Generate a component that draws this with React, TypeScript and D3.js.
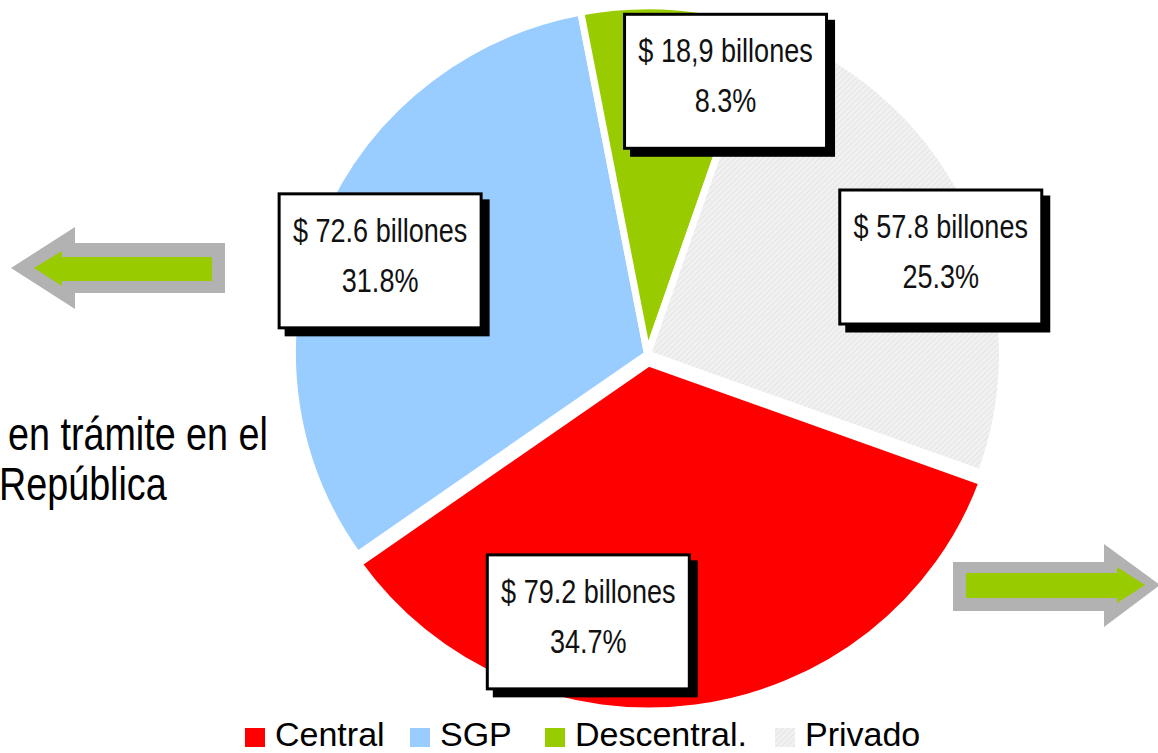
import * as d3 from 'd3';

// Datos del gráfico
const categories = ['Central', 'SGP', 'Descentral.', 'Privado'];
const values = [79.2, 72.6, 18.9, 57.8];
const amountLabels = ['$ 79.2 billones', '$ 72.6 billones', '$ 18,9 billones', '$ 57.8 billones'];
const percentLabels = ['34.7%', '31.8%', '8.3%', '25.3%'];
const colors = ['#ff0000', '#99ccff', '#99cc00', 'url(#hatch)'];

// Ajustes de posición de las cajas de etiquetas (relativos al centroide)
const labelNudge: [number, number][] = [[-98, -17], [-4, 11], [58, 5], [37, 23]];
const legendX = [245, 410, 545, 775];

const W = 1158;
const H = 753;
const cx = 647.5;
const cy = 354;
const rx = 355;
const ry = 348;
const k = ry / rx;

// Sin Arial Narrow: se comprime Liberation Sans horizontalmente
const SANS = '"Liberation Sans", Arial, sans-serif';
const NARROW_SCALE = 0.82;

export default function App() {
  const data = categories.map((c, i) => ({ label: c, value: values[i], i }));

  const pie = d3
    .pie<any>()
    .value(d => d.value)
    .sort(null)
    .startAngle((110 * Math.PI) / 180)
    .endAngle((110 * Math.PI) / 180 + 2 * Math.PI);

  const arcs = pie(data);

  const arc = d3.arc<any>().innerRadius(0).outerRadius(rx);
  const labelArc = d3.arc<any>().innerRadius(rx * 0.8).outerRadius(rx * 0.8);

  // Solo la porción "Central" está separada
  const explode = (d: any) => {
    if (d.data.i !== 0) return [0, 0];
    const mid = (d.startAngle + d.endAngle) / 2;
    return [9 * Math.sin(mid), -9 * Math.cos(mid)];
  };

  const boxW = 205;
  const boxH = 137;

  return (
    <svg width={W} height={H} style={{ position: 'absolute', left: 0, top: 0, background: '#fff' }}>
      <defs>
        <pattern id="hatch" width="4" height="4" patternUnits="userSpaceOnUse" patternTransform="rotate(45)">
          <rect width="4" height="4" fill="#f1f1f1" />
          <line x1="0" y1="0" x2="0" y2="4" stroke="#e0e0e0" strokeWidth="1.5" />
        </pattern>
      </defs>
      <rect width={W} height={H} fill="#fff" />

      {/* Flechas */}
      <polygon points="11,268 75,227 75,243 225,243 225,293 75,293 75,309" fill="#b2b2b2" />
      <polygon points="34,268 62,251 62,257 212,257 212,281 62,281 62,286" fill="#99cc00" />
      <polygon points="953,562 1104,562 1104,544 1160,585 1104,627 1104,611 953,611" fill="#b2b2b2" />
      <polygon points="966,573 1117,573 1117,567 1145,585 1117,603 1117,598 966,598" fill="#99cc00" />

      {/* Texto lateral */}
      <g transform={`translate(8,450) scale(${NARROW_SCALE},1)`}>
        <text fontFamily={SANS} fontSize={46} fill="#000">en trámite en el</text>
      </g>
      <g transform={`translate(-1,500) scale(${NARROW_SCALE},1)`}>
        <text fontFamily={SANS} fontSize={46} fill="#000">República</text>
      </g>

      {/* Torta */}
      <g transform={`translate(${cx},${cy})`}>
        {arcs.map(d => {
          const [ex, ey] = explode(d);
          return (
            <g key={d.data.label} transform={`translate(${ex},${ey}) scale(1,${k})`}>
              <path d={arc(d) as string} fill={colors[d.data.i]} stroke="#fff" strokeWidth={7} strokeLinejoin="miter" />
            </g>
          );
        })}
      </g>

      {/* Etiquetas */}
      {arcs.map(d => {
        const [ex, ey] = explode(d);
        const c = labelArc.centroid(d);
        const x = cx + c[0] + ex + labelNudge[d.data.i][0];
        const y = cy + c[1] * k + ey + labelNudge[d.data.i][1];
        return (
          <g key={'l' + d.data.label} transform={`translate(${x},${y})`}>
            <rect x={-boxW / 2 + 7} y={-boxH / 2 + 7} width={boxW} height={boxH} fill="#000" />
            <rect x={-boxW / 2 + 1.5} y={-boxH / 2 + 1.5} width={boxW - 3} height={boxH - 3} fill="#fff" stroke="#000" strokeWidth={3} />
            <g transform={`scale(${NARROW_SCALE},1)`}>
              <text y={-19} textAnchor="middle" fontFamily={SANS} fontSize={33} fill="#111">
                {amountLabels[d.data.i]}
              </text>
              <text y={31} textAnchor="middle" fontFamily={SANS} fontSize={33} fill="#111">
                {percentLabels[d.data.i]}
              </text>
            </g>
          </g>
        );
      })}

      {/* Leyenda */}
      {categories.map((c, i) => (
        <g key={'lg' + c} transform={`translate(${legendX[i]},0)`}>
          <rect x={0} y={728} width={20} height={19} fill={colors[i]} />
          <text x={30} y={746} fontFamily={SANS} fontSize={34} fill="#000">{c}</text>
        </g>
      ))}
    </svg>
  );
}
